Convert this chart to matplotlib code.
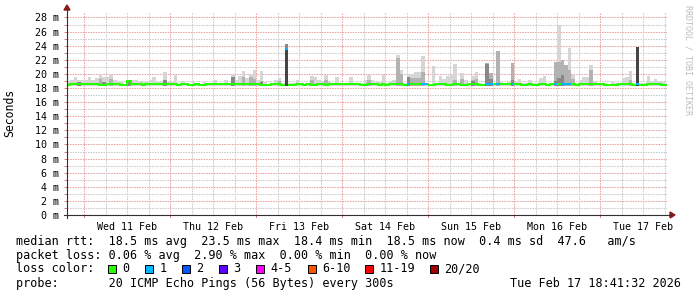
import matplotlib
matplotlib.use('Agg')
import matplotlib.pyplot as plt
from matplotlib.lines import Line2D
from matplotlib.patches import Rectangle, Polygon
import numpy as np

plt.rcParams['lines.scale_dashes'] = False

# ---------------- data (hourly bins, hour 0 = Wed 11 Feb 00:00) ----------------
start_hour = -5
smoke_max = [
    19.0, 19.1, 19.5, 19.2, 19.2,
    19.2, 19.6, 19.2, 19.4, 20.0, 19.5, 19.6, 20.0, 19.2, 19.0, 18.8, 18.6,
    19.1, 19.2, 19.1, 19.0, 18.8, 18.8, 19.2, 19.5, 18.8, 18.8, 20.3, 18.8,
    18.8, 19.8, 18.6, 19.0, 18.6, 18.6, 19.0, 18.7, 18.6, 18.8, 18.6, 18.6,
    19.1, 18.7, 18.7, 19.2, 18.7, 20.0, 19.2, 19.7, 20.4, 19.4, 20.0, 20.5,
    19.2, 20.4, 18.9, 18.6, 18.6, 19.2, 19.4, 18.7, 24.2, 18.7, 18.7, 19.1,
    18.6, 18.6, 18.7, 19.7, 19.5, 19.2, 19.0, 19.9, 19.0, 18.6, 19.6, 18.7,
    18.6, 18.6, 19.6, 18.7, 18.7, 18.7, 19.2, 19.8, 19.1, 18.9, 18.9, 19.8,
    18.7, 19.0, 19.2, 22.7, 20.5, 18.7, 20.0, 20.0, 20.2, 20.2, 22.5, 18.7,
    18.6, 21.1, 18.6, 19.7, 19.3, 19.7, 19.8, 21.4, 18.6, 20.1, 19.2, 18.7,
    19.7, 20.2, 18.7, 18.6, 21.6, 20.0, 18.7, 23.2, 18.8, 18.7, 18.8, 21.6,
    18.8, 19.3, 18.7, 18.7, 19.2, 18.7, 18.7, 19.4, 19.65, 18.6, 18.7, 21.65,
    27.0, 21.9, 21.2, 23.7, 19.9, 18.7, 19.2, 19.5, 19.5, 21.2, 18.95, 18.7,
    18.7, 18.7, 18.6, 18.8, 18.7, 18.6, 19.4, 19.6, 20.4, 18.7, 23.8, 18.7,
    18.7, 19.75, 18.95, 19.3, 18.95, 18.9, 18.7,
]
median = [
    18.4, 18.5, 18.5, 18.5, 18.5,
    18.5, 18.5, 18.5, 18.5, 18.4, 18.4, 18.5, 18.5, 18.5, 18.5, 18.4, 18.4,
    19.0, 18.5, 18.5, 18.5, 18.4, 18.5, 18.5, 18.5, 18.5, 18.5, 18.5, 18.5,
    18.5, 18.5, 18.4, 18.5, 18.5, 18.4, 18.4, 18.5, 18.4, 18.4, 18.5, 18.5,
    18.5, 18.5, 18.5, 18.5, 18.5, 18.5, 18.5, 18.5, 18.5, 18.5, 18.5, 18.5,
    18.5, 18.4, 18.4, 18.4, 18.5, 18.5, 18.5, 18.4, 23.5, 18.4, 18.4, 18.5,
    18.5, 18.4, 18.5, 18.4, 18.4, 18.5, 18.5, 18.4, 18.5, 18.5, 18.5, 18.5,
    18.5, 18.5, 18.5, 18.5, 18.5, 18.4, 18.4, 18.5, 18.5, 18.5, 18.4, 18.5,
    18.4, 18.5, 18.5, 18.5, 18.5, 18.4, 18.5, 18.5, 18.5, 18.5, 18.5, 18.5,
    18.4, 18.4, 18.5, 18.5, 18.5, 18.4, 18.4, 18.5, 18.5, 18.4, 18.4, 18.5,
    18.5, 18.5, 18.4, 18.4, 18.5, 18.5, 18.5, 18.5, 18.5, 18.5, 18.5, 18.5,
    18.5, 18.5, 18.4, 18.4, 18.5, 18.4, 18.4, 18.5, 18.5, 18.4, 18.5, 18.5,
    18.5, 18.5, 18.5, 18.5, 18.5, 18.4, 18.5, 18.5, 18.5, 18.5, 18.5, 18.5,
    18.5, 18.4, 18.4, 18.4, 18.4, 18.5, 18.5, 18.5, 18.5, 18.4, 18.5, 18.4,
    18.4, 18.5, 18.5, 18.5, 18.5, 18.4, 18.4,
]
loss_hours = [56, 90, 94, 95, 112, 113, 115, 119, 131, 133, 134, 135, 154]
loss_counts = [1, 1, 1, 1, 1, 1, 1, 1, 1, 1, 1, 1, 1]

mid_hours = [-2, 4, 7, 22, 41, 44, 46, 47, 49, 54, 56, 63, 67, 79, 87, 88, 90, 91,
             92, 93, 94, 103, 105, 108, 109, 112, 113, 115, 119, 131, 132, 133,
             134, 135, 136, 141, 152]
mid_tops = [18.9, 19.3, 19.3, 19.1, 19.5, 19.5, 19.5, 19.3, 19.0, 19.0, 24.2, 19.1,
            19.2, 19.2, 22.2, 20.0, 19.6, 19.4, 19.4, 19.4, 20.2, 19.2, 19.3, 19.1,
            19.3, 21.6, 20.1, 23.2, 21.6, 21.65, 21.65, 21.9, 21.2, 20.6, 19.3,
            20.6, 19.2]
dark_hours = [-2, 5, 12, 22, 41, 49, 56, 90, 108, 112, 113, 119, 131, 132, 133]
dark_tops = [18.8, 18.9, 19.0, 19.1, 19.5, 18.9, 24.2, 19.6, 19.0, 21.4, 19.3,
             19.2, 19.0, 19.4, 19.9]
core_hours = [56, 154]
core_tops = [23.5, 23.8]

loss_levels = ['0', '1', '2', '3', '4-5', '6-10', '11-19', '20/20']
loss_colors = ['#26ff00', '#00b8ff', '#0059ff', '#5e00ff', '#ff00ff',
               '#ff5500', '#ff0000', '#a10000']

y_ticks = list(range(0, 29, 2))
day_labels = ['Wed 11 Feb', 'Thu 12 Feb', 'Fri 13 Feb', 'Sat 14 Feb',
              'Sun 15 Feb', 'Mon 16 Feb', 'Tue 17 Feb']

stats_rtt = "median rtt:  18.5 ms avg  23.5 ms max  18.4 ms min  18.5 ms now  0.4 ms sd  47.6   am/s"
stats_loss = "packet loss: 0.06 % avg  2.90 % max  0.00 % min  0.00 % now"
probe_text = "probe:       20 ICMP Echo Pings (56 Bytes) every 300s"
stamp_text = "Tue Feb 17 18:41:32 2026"

# ---------------- figure ----------------
W, H = 697, 297
fig = plt.figure(figsize=(W / 100, H / 100), dpi=100)
fig.patch.set_facecolor('white')
MONO = 'DejaVu Sans Mono'

def fx(x):
    return x / W

def fy(y):
    return 1 - y / H

L, R, T, B = 67, 667, 13, 215
ax = fig.add_axes([fx(L), fy(B), (R - L) / W, (B - T) / H])
ax.set_facecolor('white')
x0, x1 = -4.83, 162.68
y_top = (B - T) / 7.055
ax.set_xlim(x0, x1)
ax.set_ylim(0, y_top)
for s in ax.spines.values():
    s.set_visible(False)

# grid (dotted, drawn behind the data)
red_grid = '#eaa2a2'
gray_grid = '#cbcbcb'
dots = (0, (1.1, 0.75))
for v in range(1, 29):
    ax.axhline(v, color=red_grid if v % 2 == 0 else gray_grid, lw=0.75,
               linestyle=dots, zorder=0)
for hh in range(0, 163, 6):
    ax.axvline(hh, color=red_grid if hh % 24 == 0 else gray_grid, lw=0.75,
               linestyle=dots, zorder=0)

# smoke
hours = np.arange(start_hour, start_hour + len(smoke_max))
base = 18.35
ax.bar(hours, np.array(smoke_max) - base, bottom=base, width=1.0, align='edge',
       color='#d6d6d6', linewidth=0, zorder=2, antialiased=False)
ax.bar(mid_hours, np.array(mid_tops) - base, bottom=base, width=1.0, align='edge',
       color='#b2b2b2', linewidth=0, zorder=3, antialiased=False)
ax.bar(dark_hours, np.array(dark_tops) - base, bottom=base, width=1.0, align='edge',
       color='#888888', linewidth=0, zorder=4, antialiased=False)
ax.bar(core_hours, np.array(core_tops) - base, bottom=base, width=1.0, align='edge',
       color='#454545', linewidth=0, zorder=5, antialiased=False)

# median line coloured by loss
loss_full = [0] * len(hours)
for h_, c_ in zip(loss_hours, loss_counts):
    loss_full[h_ - start_hour] = c_

def loss_idx(c):
    if c == 0: return 0
    if c == 1: return 1
    if c == 2: return 2
    if c == 3: return 3
    if c <= 5: return 4
    if c <= 10: return 5
    if c <= 19: return 6
    return 7

n = len(hours)
i = 0
while i < n:
    ci = loss_idx(loss_full[i])
    j = i
    while j + 1 < n and loss_idx(loss_full[j + 1]) == ci:
        j += 1
    xs = list(hours[i:j + 1]) + [hours[j] + 1]
    ys = median[i:j + 1] + [median[j]]
    ax.plot(xs, ys, drawstyle='steps-post', color=loss_colors[ci], lw=1.45,
            solid_capstyle='butt', solid_joinstyle='miter', zorder=6)
    i = j + 1

# ticks
ax.set_yticks(y_ticks)
ax.set_yticklabels([f"{v} m" for v in y_ticks], fontfamily=MONO, fontsize=7.2)
ax.set_yticks(range(1, 29, 2), minor=True)
ax.tick_params(axis='y', which='both', length=2, width=0.7, color='#d08080', pad=3.5)
ax.set_xticks([12 + 24 * k for k in range(len(day_labels))])
ax.set_xticklabels(day_labels, fontfamily=MONO, fontsize=7.2)
ax.tick_params(axis='x', which='major', length=0, pad=5)
for hh in range(0, 163, 24):
    fig.add_artist(Line2D([fx(L + (hh - x0) * (R - L) / (x1 - x0))] * 2,
                          [fy(B), fy(B + 2)], color='#d08080', lw=0.7))

# axes lines and arrows
axis_col = '#303030'
fig.add_artist(Line2D([fx(L), fx(L)], [fy(B + 3), fy(9)], color=axis_col, lw=0.8))
fig.add_artist(Line2D([fx(L - 3), fx(671)], [fy(B), fy(B)], color=axis_col, lw=0.8))
arrow_col = '#8b1a1a'
fig.add_artist(Polygon([[fx(L - 3), fy(10)], [fx(L + 3), fy(10)], [fx(L), fy(5)]],
                       closed=True, transform=fig.transFigure, color=arrow_col))
fig.add_artist(Polygon([[fx(670), fy(B - 3)], [fx(670), fy(B + 3)], [fx(675), fy(B)]],
                       closed=True, transform=fig.transFigure, color=arrow_col))

# labels
fig.text(fx(10), fy(113), 'Seconds', rotation=90, ha='center', va='center',
         fontfamily=MONO, fontsize=8.3)
fig.text(fx(688), fy(5), 'RRDTOOL / TOBI OETIKER', rotation=-90, ha='center', va='top',
         fontfamily=MONO, fontsize=6.0, color='#bdbdbd')

# legend block
fs = 8.5
fig.text(fx(16), fy(241), stats_rtt, ha='left', va='center', fontfamily=MONO, fontsize=fs)
fig.text(fx(16), fy(255), stats_loss, ha='left', va='center', fontfamily=MONO, fontsize=fs)
fig.text(fx(16), fy(268.5), 'loss color:', ha='left', va='center', fontfamily=MONO, fontsize=fs)
box_x = [108, 145, 182, 219, 256, 307.5, 365, 430]
for bx, lab, col in zip(box_x, loss_levels, loss_colors):
    fig.add_artist(Rectangle((fx(bx), fy(272.5)), 8 / W, 8 / H, transform=fig.transFigure,
                             facecolor=col, edgecolor='black', lw=0.7))
    fig.text(fx(bx + 14.5), fy(268.5), lab, ha='left', va='center', fontfamily=MONO, fontsize=fs)
fig.text(fx(16), fy(283.5), probe_text, ha='left', va='center', fontfamily=MONO, fontsize=fs)
fig.text(fx(681), fy(283.5), stamp_text, ha='right', va='center', fontfamily=MONO, fontsize=fs)

fig.savefig('out.png', dpi=100, facecolor='white')
